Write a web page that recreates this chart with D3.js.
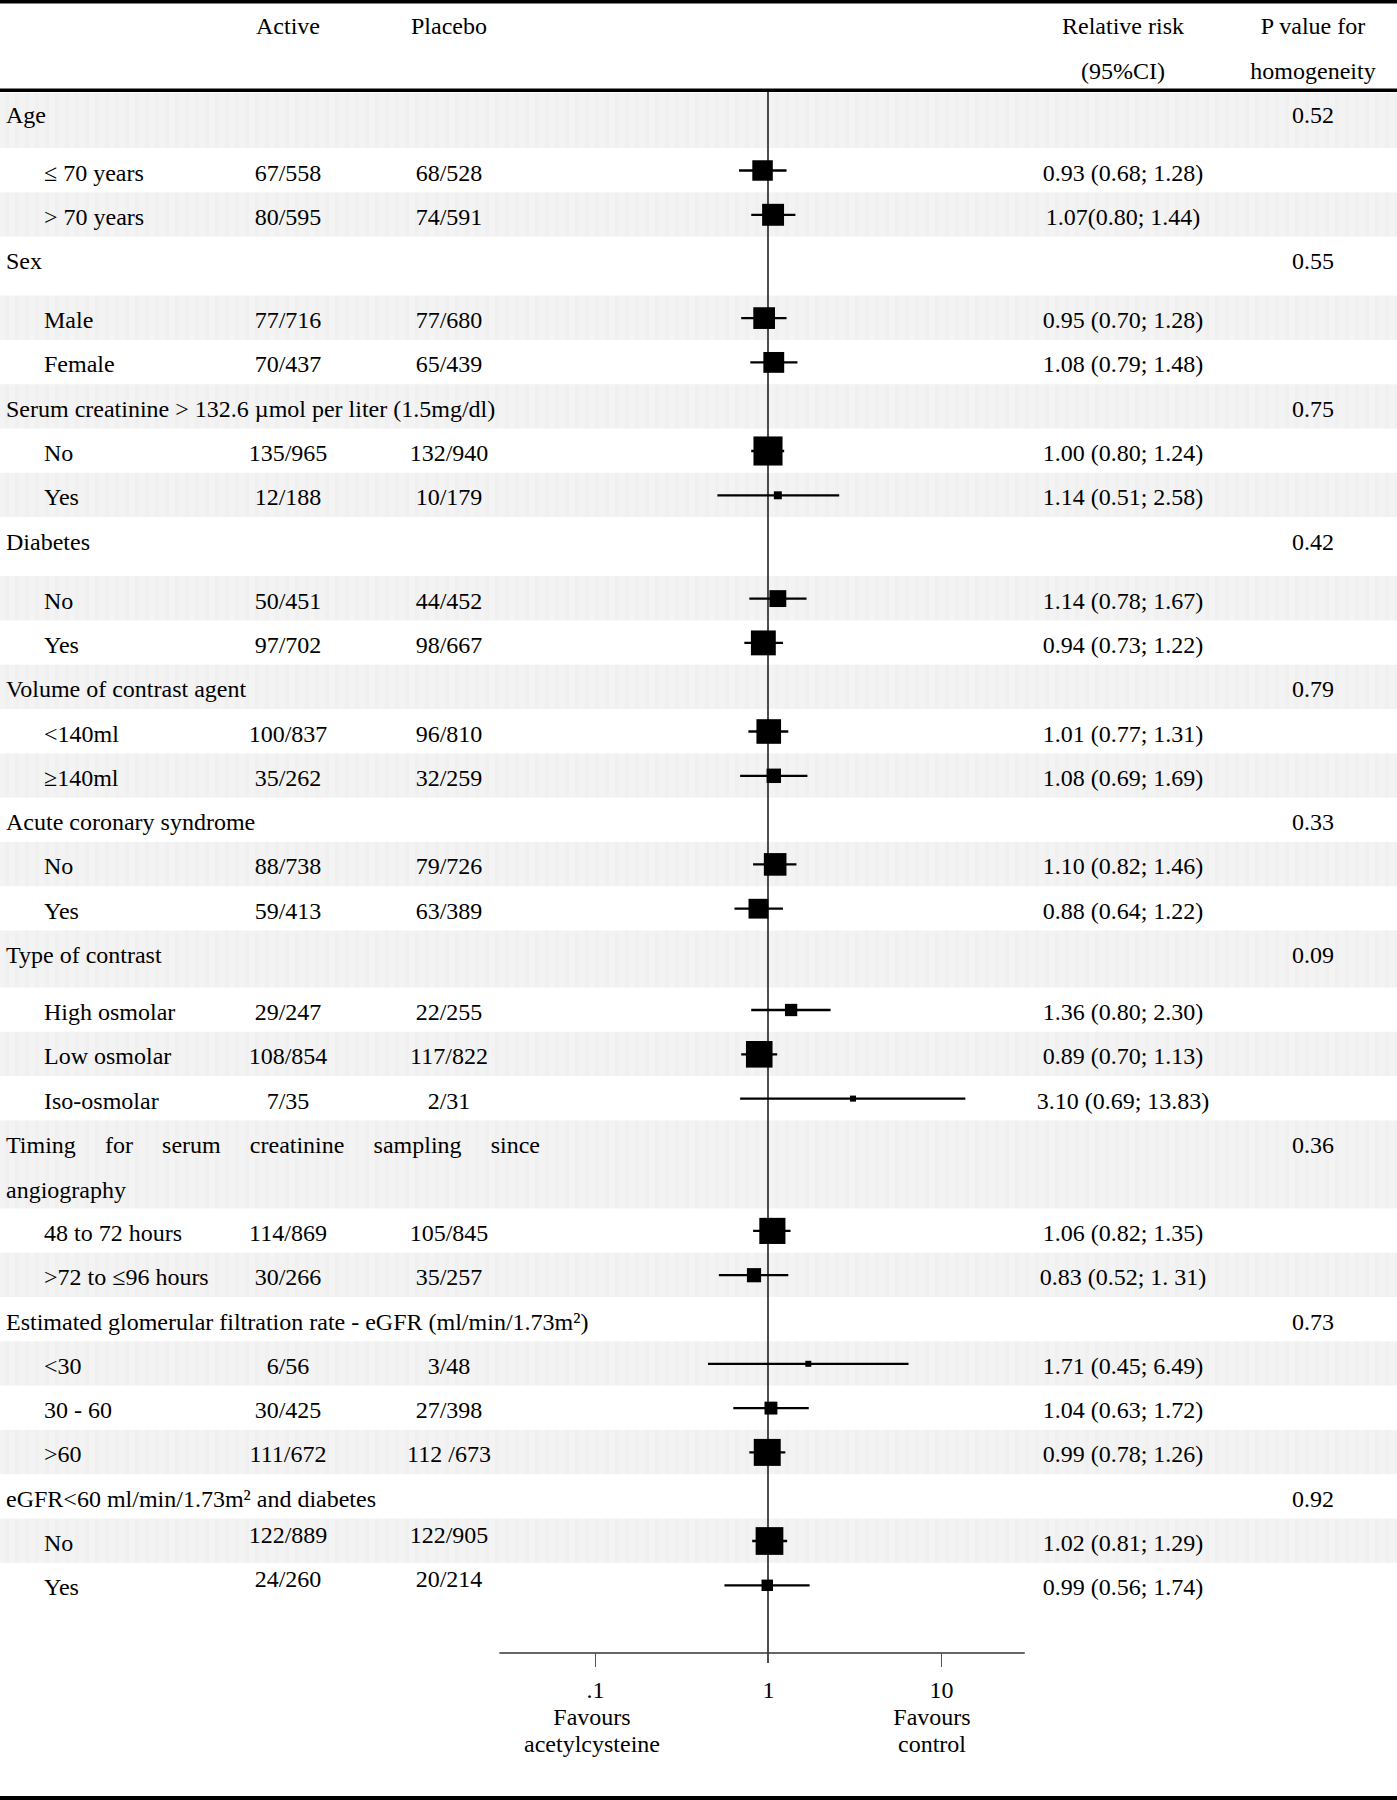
<!DOCTYPE html>
<html>
<head>
<meta charset="utf-8">
<script src="https://cdn.jsdelivr.net/npm/d3@7"></script>
<style>
  body { margin: 0; background: #fff; }
  svg { display: block; }
  text { font-family: "Times New Roman", "Liberation Serif", serif; font-size: 24px; fill: #000; }
</style>
</head>
<body>
<div id="chart"></div>
<script>
var groupNames = [
  ["Age"],
  ["Sex"],
  ["Serum creatinine > 132.6 µmol per liter (1.5mg/dl)"],
  ["Diabetes"],
  ["Volume of contrast agent"],
  ["Acute coronary syndrome"],
  ["Type of contrast"],
  ["Timing for serum creatinine sampling since", "angiography"],
  ["Estimated glomerular filtration rate - eGFR (ml/min/1.73m²)"],
  ["eGFR<60 ml/min/1.73m² and diabetes"]
];
var pValues = ["0.52", "0.55", "0.75", "0.42", "0.79", "0.33", "0.09", "0.36", "0.73", "0.92"];

var subLabels = [
  ["≤ 70 years", "> 70 years"],
  ["Male", "Female"],
  ["No", "Yes"],
  ["No", "Yes"],
  ["<140ml", "≥140ml"],
  ["No", "Yes"],
  ["High osmolar", "Low osmolar", "Iso-osmolar"],
  ["48 to 72 hours", ">72 to ≤96 hours"],
  ["<30", "30 - 60", ">60"],
  ["No", "Yes"]
];
var activeN = [
  ["67/558", "80/595"], ["77/716", "70/437"], ["135/965", "12/188"], ["50/451", "97/702"],
  ["100/837", "35/262"], ["88/738", "59/413"], ["29/247", "108/854", "7/35"],
  ["114/869", "30/266"], ["6/56", "30/425", "111/672"], ["122/889", "24/260"]
];
var placeboN = [
  ["68/528", "74/591"], ["77/680", "65/439"], ["132/940", "10/179"], ["44/452", "98/667"],
  ["96/810", "32/259"], ["79/726", "63/389"], ["22/255", "117/822", "2/31"],
  ["105/845", "35/257"], ["3/48", "27/398", "112 /673"], ["122/905", "20/214"]
];
var rr = [
  [0.93, 1.07], [0.95, 1.08], [1.00, 1.14], [1.14, 0.94], [1.01, 1.08], [1.10, 0.88],
  [1.36, 0.89, 3.10], [1.06, 0.83], [1.71, 1.04, 0.99], [1.02, 0.99]
];
var ciLo = [
  [0.68, 0.80], [0.70, 0.79], [0.80, 0.51], [0.78, 0.73], [0.77, 0.69], [0.82, 0.64],
  [0.80, 0.70, 0.69], [0.82, 0.52], [0.45, 0.63, 0.78], [0.81, 0.56]
];
var ciHi = [
  [1.28, 1.44], [1.28, 1.48], [1.24, 2.58], [1.67, 1.22], [1.31, 1.69], [1.46, 1.22],
  [2.30, 1.13, 13.83], [1.35, 1.31], [6.49, 1.72, 1.26], [1.29, 1.74]
];
var rrText = [
  ["0.93 (0.68; 1.28)", "1.07(0.80; 1.44)"],
  ["0.95 (0.70; 1.28)", "1.08 (0.79; 1.48)"],
  ["1.00 (0.80; 1.24)", "1.14 (0.51; 2.58)"],
  ["1.14 (0.78; 1.67)", "0.94 (0.73; 1.22)"],
  ["1.01 (0.77; 1.31)", "1.08 (0.69; 1.69)"],
  ["1.10 (0.82; 1.46)", "0.88 (0.64; 1.22)"],
  ["1.36 (0.80; 2.30)", "0.89 (0.70; 1.13)", "3.10 (0.69; 13.83)"],
  ["1.06 (0.82; 1.35)", "0.83 (0.52; 1. 31)"],
  ["1.71 (0.45; 6.49)", "1.04 (0.63; 1.72)", "0.99 (0.78; 1.26)"],
  ["1.02 (0.81; 1.29)", "0.99 (0.56; 1.74)"]
];
var tickVals = [0.1, 1, 10];
var tickText = [".1", "1", "10"];
var favoursText = [["Favours", "acetylcysteine"], ["Favours", "control"]];

// ---- layout ----
var W = 1397, H = 1800;
var firstRowTop = 93;
var rowH = 44.3;
var headRowH = [55, 59, rowH, 59, rowH, rowH, 57, 88, rowH, rowH];
var col = { label: 6, sub: 44, active: 288, placebo: 449, rr: 1123, p: 1313 };
var baseOff = 32.5;        // text baseline below band top
var axisY = 1653;
var axisMin = 0.028, axisMax = 30.5;

var svg = d3.select("#chart").append("svg")
  .attr("width", W)
  .attr("height", H);

// faint striped grey for the shaded rows
var pat = svg.append("defs").append("pattern")
  .attr("id", "band").attr("patternUnits", "userSpaceOnUse")
  .attr("width", 10).attr("height", 10);
pat.append("rect").attr("width", 10).attr("height", 10).attr("fill", "#f3f3f3");
pat.append("rect").attr("x", 5).attr("width", 4).attr("height", 10).attr("fill", "#f0f0f0");

// build the row list
var rows = [];
var yy = firstRowTop;
groupNames.forEach(function(g, i) {
  rows.push({ kind: "head", g: i, top: yy, h: headRowH[i] });
  yy += headRowH[i];
  subLabels[i].forEach(function(s, j) {
    rows.push({ kind: "sub", g: i, j: j, top: yy, h: rowH });
    yy += rowH;
  });
});
rows.forEach(function(r, k) { r.grey = (k % 2 === 0); });

svg.selectAll("rect.band")
  .data(rows.filter(function(r) { return r.grey; }))
  .enter().append("rect")
  .attr("class", "band")
  .attr("x", 0).attr("y", function(r) { return r.top; })
  .attr("width", W).attr("height", function(r) { return r.h; })
  .attr("fill", "url(#band)");

// rules
svg.append("rect").attr("x", 0).attr("y", 0).attr("width", W).attr("height", 3.5).attr("fill", "#000");
svg.append("rect").attr("x", 0).attr("y", 88.5).attr("width", W).attr("height", 3.5).attr("fill", "#000");
svg.append("rect").attr("x", 0).attr("y", 1796).attr("width", W).attr("height", 4).attr("fill", "#000");

// column headers
var head = svg.append("g");
head.append("text").attr("x", col.active).attr("y", 34).attr("text-anchor", "middle").text("Active");
head.append("text").attr("x", col.placebo).attr("y", 34).attr("text-anchor", "middle").text("Placebo");
head.append("text").attr("x", col.rr).attr("y", 34).attr("text-anchor", "middle").text("Relative risk");
head.append("text").attr("x", col.rr).attr("y", 79).attr("text-anchor", "middle").text("(95%CI)");
head.append("text").attr("x", col.p).attr("y", 34).attr("text-anchor", "middle").text("P value for");
head.append("text").attr("x", col.p).attr("y", 79).attr("text-anchor", "middle").text("homogeneity");

// spread words of a line across x0..x1 (justified)
function justify(sel, line, x0, x1, yb) {
  var words = line.split(" ");
  var t = words.map(function(w) { return sel.append("text").attr("y", yb).text(w); });
  var wid = t.map(function(d) { return d.node().getComputedTextLength(); });
  var gap = (x1 - x0 - d3.sum(wid)) / (words.length - 1);
  var x = x0;
  t.forEach(function(d, k) { d.attr("x", x); x += wid[k] + gap; });
}

var tbl = svg.append("g");
rows.forEach(function(r) {
  var yb = r.top + baseOff;
  if (r.kind === "head") {
    if (r.g === 0) yb -= 3;  // first heading sits a bit higher
    var lines = groupNames[r.g];
    lines.forEach(function(line, k) {
      if (lines.length > 1 && k < lines.length - 1) {
        justify(tbl, line, col.label, 540, yb + k * 45);
      } else {
        tbl.append("text").attr("x", col.label).attr("y", yb + k * 45).text(line);
      }
    });
    tbl.append("text").attr("x", col.p).attr("y", yb).attr("text-anchor", "middle").text(pValues[r.g]);
  } else {
    // last group's counts sit a little higher in the original
    var cdy = r.g === 9 ? -8 : 0;
    tbl.append("text").attr("x", col.sub).attr("y", yb).text(subLabels[r.g][r.j]);
    tbl.append("text").attr("x", col.active).attr("y", yb + cdy).attr("text-anchor", "middle").text(activeN[r.g][r.j]);
    tbl.append("text").attr("x", col.placebo).attr("y", yb + cdy).attr("text-anchor", "middle").text(placeboN[r.g][r.j]);
    tbl.append("text").attr("x", col.rr).attr("y", yb).attr("text-anchor", "middle").text(rrText[r.g][r.j]);
  }
});

// ---- forest plot ----
var x = d3.scaleLog().domain([0.1, 10]).range([595, 941]);

// inverse-variance weight of log RR from the counts -> box area
function parseN(s) { return s.split("/").map(function(v) { return +v.trim(); }); }
var subs = rows.filter(function(r) { return r.kind === "sub"; });
subs.forEach(function(r) {
  var a = parseN(activeN[r.g][r.j]), c = parseN(placeboN[r.g][r.j]);
  r.w = 1 / (1 / a[0] - 1 / a[1] + 1 / c[0] - 1 / c[1]);
  r.rr = rr[r.g][r.j];
  r.lo = ciLo[r.g][r.j];
  r.hi = ciHi[r.g][r.j];
  r.my = r.top + baseOff - 10;
});
var maxW = d3.max(subs, function(r) { return r.w; });
var size = d3.scaleSqrt().domain([0, maxW]).range([0, 3.3 * Math.sqrt(maxW)]);

var plot = svg.append("g");
plot.append("line")
  .attr("x1", x(1)).attr("x2", x(1))
  .attr("y1", 92).attr("y2", axisY + 10)
  .attr("stroke", "#222").attr("stroke-width", 1.6);

plot.selectAll("line.ci").data(subs).enter().append("line")
  .attr("class", "ci")
  .attr("x1", function(r) { return x(r.lo); })
  .attr("x2", function(r) { return x(r.hi); })
  .attr("y1", function(r) { return r.my; })
  .attr("y2", function(r) { return r.my; })
  .attr("stroke", "#000").attr("stroke-width", 2.3);

plot.selectAll("rect.box").data(subs).enter().append("rect")
  .attr("class", "box")
  .attr("x", function(r) { return x(r.rr) - Math.max(6, size(r.w)) / 2; })
  .attr("y", function(r) { return r.my - Math.max(6, size(r.w)) / 2; })
  .attr("width", function(r) { return Math.max(6, size(r.w)); })
  .attr("height", function(r) { return Math.max(6, size(r.w)); })
  .attr("fill", "#000");

// axis
var axisG = svg.append("g").attr("transform", "translate(0," + axisY + ")");
axisG.append("line")
  .attr("x1", x(axisMin)).attr("x2", x(axisMax))
  .attr("stroke", "#333").attr("stroke-width", 1.6);
var ax = axisG.append("g")
  .call(d3.axisBottom(x).tickValues(tickVals)
    .tickFormat(function(d, i) { return tickText[i]; })
    .tickSize(14).tickPadding(14));
ax.select(".domain").remove();
ax.selectAll(".tick line").attr("stroke", "#555").attr("stroke-width", 1)
  .filter(function(d) { return d === 1; }).remove();
ax.selectAll(".tick text")
  .attr("fill", "#000")
  .style("font-family", "'Times New Roman', 'Liberation Serif', serif")
  .style("font-size", "24px");

var favX = [x(0.1) - 3, x(10) - 9];
favoursText.forEach(function(lines, i) {
  lines.forEach(function(t, k) {
    svg.append("text").attr("x", favX[i]).attr("y", 1725 + k * 27)
      .attr("text-anchor", "middle").text(t);
  });
});
</script>
</body>
</html>
